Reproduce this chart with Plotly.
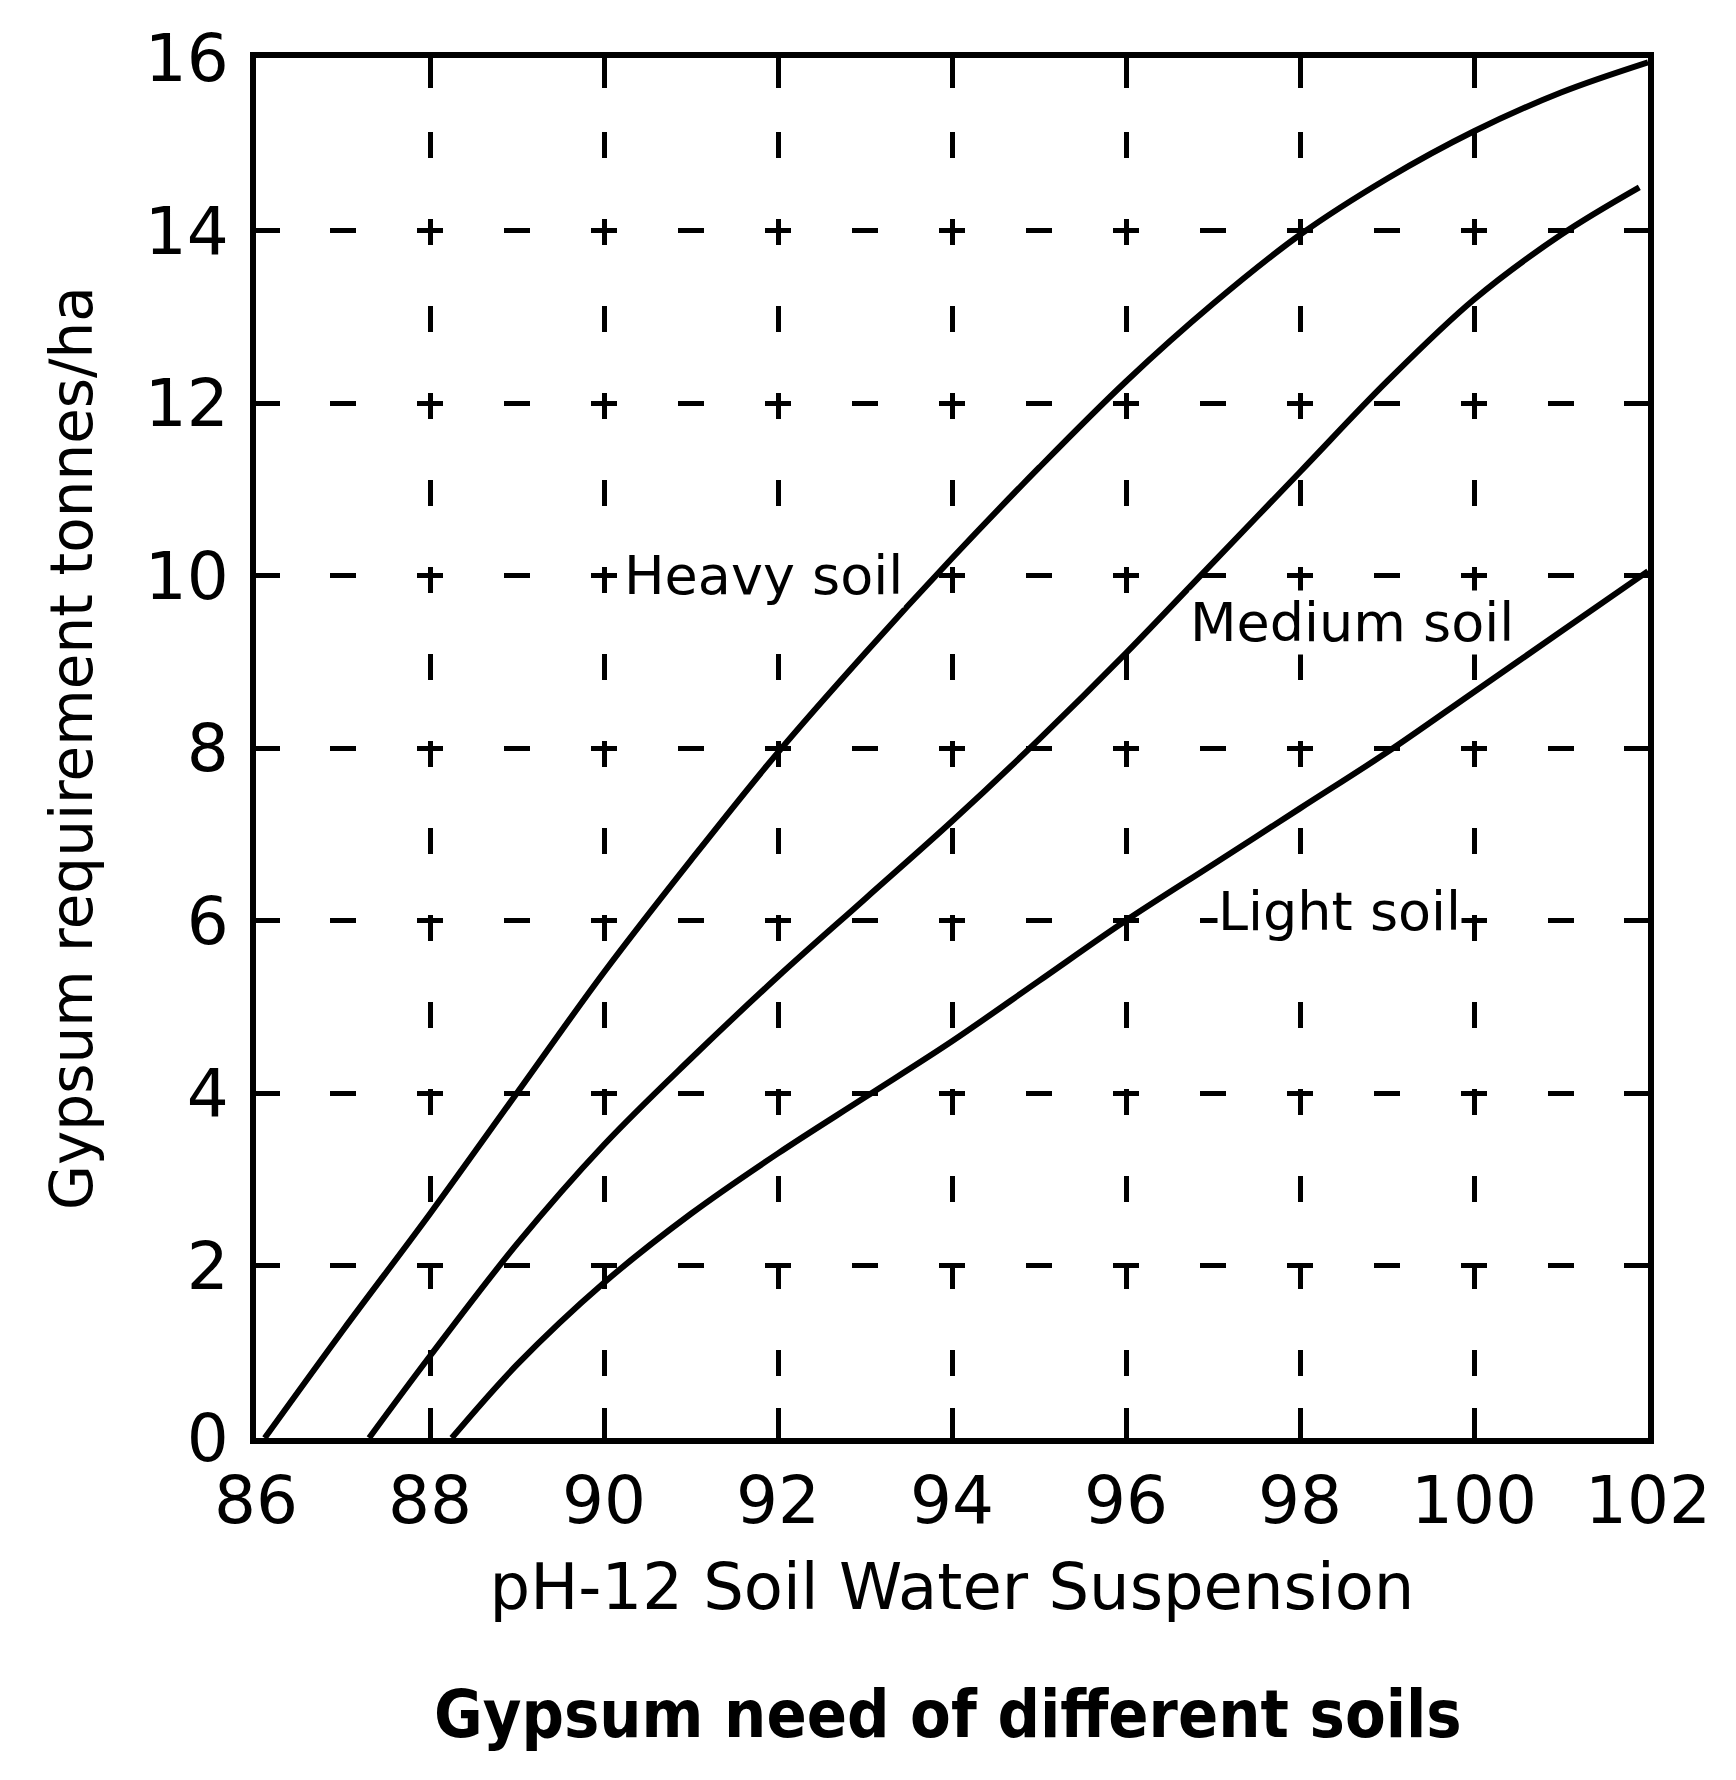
import plotly.graph_objects as go

# ---- data ----
heavy_x = [86.1, 87, 88, 89, 90, 91, 92, 93, 94, 95, 96, 97, 98, 99, 100, 101, 102]
heavy_y = [0.0, 1.25, 2.6, 4.0, 5.4, 6.7, 7.95, 9.1, 10.2, 11.25, 12.25, 13.15, 13.95, 14.6, 15.15, 15.6, 15.95]

medium_x = [87.3, 88, 89, 90, 91, 92, 93, 94, 95, 96, 97, 98, 99, 100, 101, 101.9]
medium_y = [0.0, 0.95, 2.25, 3.4, 4.4, 5.35, 6.25, 7.15, 8.1, 9.1, 10.15, 11.2, 12.25, 13.2, 13.95, 14.5]

light_x = [88.25, 89, 90, 91, 92, 93, 94, 95, 96, 97, 98, 99, 100, 101, 102]
light_y = [0.0, 0.85, 1.8, 2.6, 3.3, 3.95, 4.6, 5.3, 6.0, 6.65, 7.3, 7.95, 8.65, 9.35, 10.05]

x_tick_vals = [86, 88, 90, 92, 94, 96, 98, 100, 102]
x_tick_text = ["86", "88", "90", "92", "94", "96", "98", "100", "102"]
y_tick_vals = [0, 2, 4, 6, 8, 10, 12, 14, 16]
y_tick_text = ["0", "2", "4", "6", "8", "10", "12", "14", "16"]

labels_text = ["Heavy soil", "Medium soil", "Light soil"]
labels_x = [90.22, 98.6, 98.45]
labels_y = [10.0, 9.45, 6.1]
labels_anchor = ["left", "center", "center"]

FONT = "DejaVu Sans"
CAPTION_FONT = "DejaVu Sans Condensed, DejaVu Sans"
GRID_DASH = "13px,61px,13px,0px"   # dashes centred on every unit (87 px per unit)

fig = go.Figure()
for xs, ys, name in [(heavy_x, heavy_y, "Heavy soil"),
                     (medium_x, medium_y, "Medium soil"),
                     (light_x, light_y, "Light soil")]:
    fig.add_trace(go.Scatter(x=xs, y=ys, mode="lines", name=name,
                             line=dict(color="black", width=6, shape="spline", smoothing=1.0),
                             showlegend=False))

for t, lx, ly, anc in zip(labels_text, labels_x, labels_y, labels_anchor):
    fig.add_annotation(x=lx, y=ly, text=t, showarrow=False, xanchor=anc,
                       font=dict(family=FONT, size=54, color="black"),
                       bgcolor="white", borderpad=0)

fig.add_annotation(xref="paper", yref="paper", x=0.497, y=-0.2,
                   text="<b>Gypsum need of different soils</b>", showarrow=False,
                   font=dict(family=CAPTION_FONT, size=66, color="black"), yanchor="middle")

fig.update_xaxes(range=[86, 102], tickvals=x_tick_vals, ticktext=x_tick_text,
                 showline=True, linecolor="black", linewidth=6, mirror="ticks",
                 ticks="inside", ticklen=30, tickwidth=5, tickcolor="black",
                 showgrid=True, gridcolor="black", gridwidth=5, griddash=GRID_DASH,
                 zeroline=False,
                 tickfont=dict(family=FONT, size=66, color="black"),
                 title=dict(text="pH-12 Soil Water Suspension",
                            font=dict(family=FONT, size=64, color="black"), standoff=28))
fig.update_yaxes(range=[0, 16], tickvals=y_tick_vals, ticktext=y_tick_text,
                 showline=True, linecolor="black", linewidth=6, mirror="ticks",
                 ticks="inside", ticklen=24, tickwidth=5, tickcolor="black",
                 showgrid=True, gridcolor="black", gridwidth=5, griddash=GRID_DASH,
                 zeroline=False, ticklabelstandoff=8,
                 tickfont=dict(family=FONT, size=66, color="black"),
                 title=dict(text="Gypsum requirement tonnes/ha",
                            font=dict(family=FONT, size=58, color="black"), standoff=36))

fig.update_layout(width=1736, height=1780, plot_bgcolor="white", paper_bgcolor="white",
                  margin=dict(l=248, r=96, t=38, b=350), font=dict(family=FONT, color="black"))

fig.write_html("out.html")
